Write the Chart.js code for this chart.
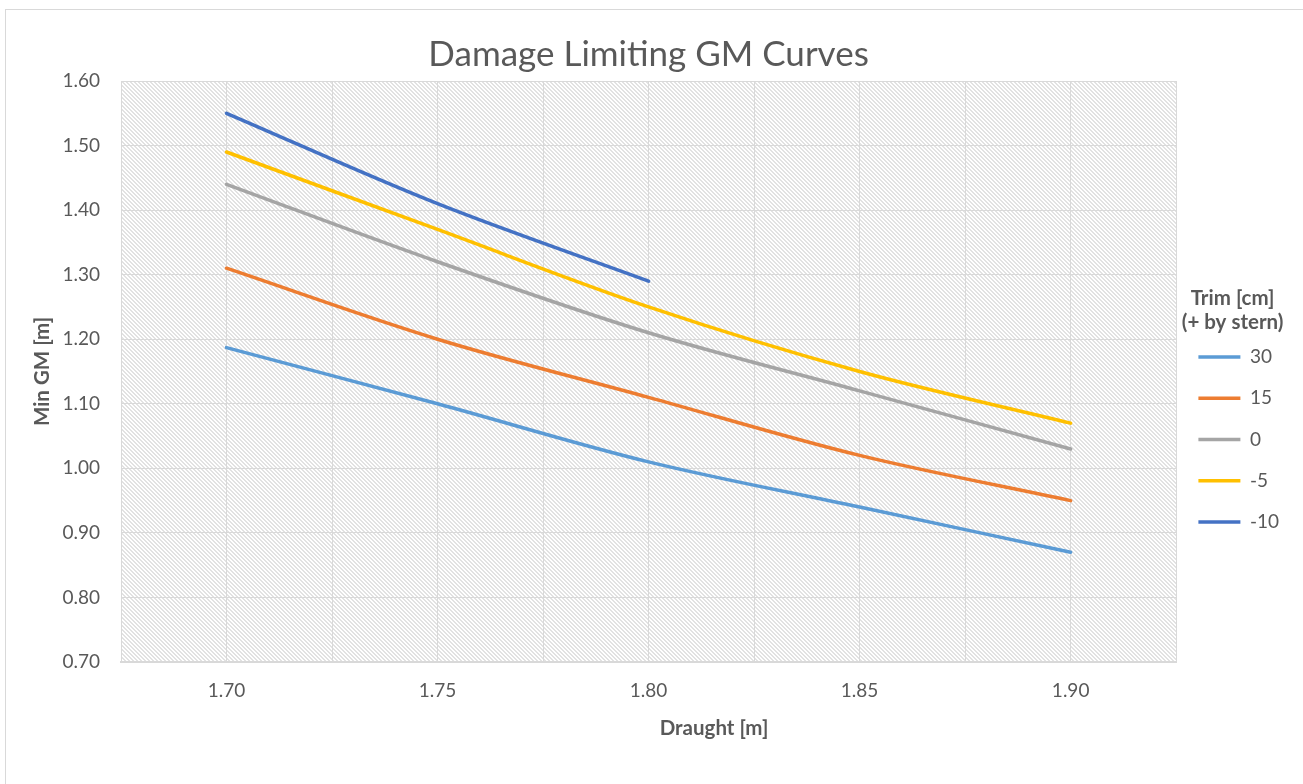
<!DOCTYPE html>
<html><head><meta charset="utf-8">
<script src="https://cdn.jsdelivr.net/npm/chart.js@4/dist/chart.umd.min.js"></script>
<style>html,body{margin:0;padding:0;background:#fff;} #wrap{width:1303px;height:784px;position:relative;}</style>
</head><body><div id="wrap"><canvas id="c" width="1303" height="784"></canvas></div>
<script>
// ---- data ----
const draughts = [1.70, 1.75, 1.80, 1.85, 1.90];
const trimLabels = ['30', '15', '0', '-5', '-10'];
const gm30  = [1.187, 1.10, 1.01, 0.94, 0.87];
const gm15  = [1.31, 1.20, 1.11, 1.02, 0.95];
const gm0   = [1.44, 1.32, 1.21, 1.12, 1.03];
const gmM5  = [1.49, 1.37, 1.25, 1.15, 1.07];
const gmM10 = [1.55, 1.41, 1.29];
const xTickValues = [1.675, 1.70, 1.725, 1.75, 1.775, 1.80, 1.825, 1.85, 1.875, 1.90, 1.925];
const xTickLabels = ['', '1.70', '', '1.75', '', '1.80', '', '1.85', '', '1.90', ''];
const yTickValues = [0.70, 0.80, 0.90, 1.00, 1.10, 1.20, 1.30, 1.40, 1.50, 1.60];
const yTickLabels = ['0.70', '0.80', '0.90', '1.00', '1.10', '1.20', '1.30', '1.40', '1.50', '1.60'];
const seriesColors = ['#5B9BD5', '#ED7D31', '#A5A5A5', '#FFC000', '#4472C4'];

const allSeries = [gm30, gm15, gm0, gmM5, gmM10];
const TEXT = '#595959';
const FAMILY = 'Lato, "Open Sans", sans-serif';
Chart.defaults.font.family = FAMILY;
Chart.defaults.color = TEXT;

// hatch pattern for plot area
const pc = document.createElement('canvas');
pc.width = 4; pc.height = 4;
const pctx = pc.getContext('2d');
pctx.fillStyle = '#ffffff'; pctx.fillRect(0, 0, 4, 4);
pctx.fillStyle = '#e2e2e2';
for (let y = 0; y < 4; y++) for (let x = 0; x < 4; x++) {
  if ((((x - y) % 4) + 4) % 4 < 2) pctx.fillRect(x, y, 1, 1);
}

const bgPlugin = {
  id: 'bg',
  beforeDraw(chart) {
    const ctx = chart.ctx, a = chart.chartArea;
    ctx.save();
    ctx.fillStyle = '#fff';
    ctx.fillRect(0, 0, chart.width, chart.height);
    ctx.strokeStyle = '#d9d9d9'; ctx.lineWidth = 1;
    ctx.strokeRect(5.5, 9.5, chart.width + 20, chart.height + 20);
    ctx.fillStyle = ctx.createPattern(pc, 'repeat');
    ctx.fillRect(a.left, a.top, a.right - a.left, a.bottom - a.top);
    ctx.restore();
  },
  afterDraw(chart) {
    const ctx = chart.ctx;
    ctx.save();
    ctx.font = 'bold 20.5px ' + FAMILY;
    ctx.fillStyle = TEXT; ctx.textAlign = 'center'; ctx.textBaseline = 'middle';
    ctx.fillText('Draught [m]', 714, 728);
    ctx.restore();
  }
};

const datasets = allSeries.map((arr, i) => ({
  label: trimLabels[i],
  data: arr.map((v, j) => ({ x: draughts[j], y: v })),
  borderColor: seriesColors[i],
  backgroundColor: seriesColors[i],
  borderWidth: 3.5,
  borderCapStyle: 'round',
  borderJoinStyle: 'round',
  pointRadius: 0,
  pointHoverRadius: 0,
  tension: 0.33,
  fill: false
}));

new Chart(document.getElementById('c'), {
  type: 'line',
  data: { datasets },
  plugins: [bgPlugin],
  options: {
    responsive: false,
    devicePixelRatio: 1,
    animation: false,
    layout: { padding: { left: 0, right: 14, top: 0, bottom: 0 } },
    plugins: {
      title: {
        display: true,
        fullSize: false,
        text: 'Damage Limiting GM Curves',
        color: TEXT,
        font: { size: 35, weight: 'normal', lineHeight: 1.2 },
        padding: { top: 34, bottom: 5 }
      },
      legend: {
        position: 'right',
        title: {
          display: true,
          text: ['Trim [cm]', '(+ by stern)'],
          color: TEXT,
          font: { size: 20.5, weight: 'bold', lineHeight: 1.17 },
          padding: { top: 57.5, bottom: 13.5 }
        },
        labels: {
          usePointStyle: true,
          pointStyle: 'line',
          pointStyleWidth: 42,
          padding: 22.25,
          color: TEXT,
          font: { size: 19 }
        }
      },
      tooltip: { enabled: false }
    },
    scales: {
      x: {
        type: 'linear',
        min: 1.675, max: 1.925,
        afterBuildTicks(scale) { scale.ticks = xTickValues.map(v => ({ value: v })); },
        afterFit(scale) { scale.height = 122; },
        ticks: {
          autoSkip: false, maxRotation: 0, padding: 17,
          font: { size: 19 }, color: TEXT,
          callback: (v, i) => xTickLabels[i]
        },
        grid: { color: '#d9d9d9', drawTicks: false },
        border: { color: '#d9d9d9', width: 2 }
      },
      y: {
        min: 0.70, max: 1.60,
        afterBuildTicks(scale) { scale.ticks = yTickValues.map(v => ({ value: v })); },
        afterFit(scale) { scale.width = 121; },
        ticks: {
          padding: 21, font: { size: 19 }, color: TEXT,
          callback: (v, i) => yTickLabels[i]
        },
        grid: { color: '#d9d9d9', drawTicks: false },
        border: { color: '#d9d9d9', width: 1 },
        title: {
          display: true, text: 'Min GM [m]', color: TEXT,
          font: { size: 20.5, weight: 'bold', lineHeight: 1.2 },
          padding: { top: 29.7, bottom: 0 }
        }
      }
    }
  }
});
</script></body></html>
